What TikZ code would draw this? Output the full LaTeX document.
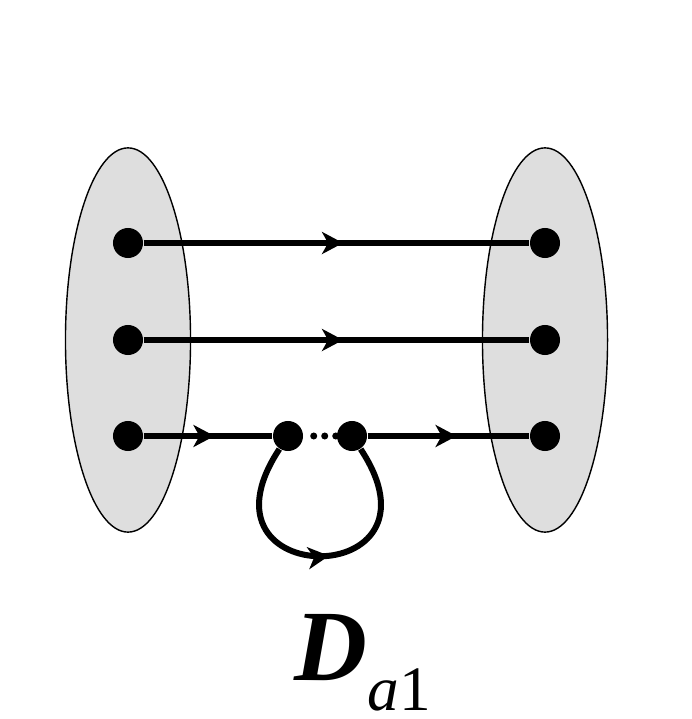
\documentclass[tikz,border=0pt]{standalone}
\usepackage{fontspec}
\setmainfont{Liberation Serif}
\usetikzlibrary{shapes.geometric,arrows.meta,decorations.markings}
\definecolor{setgray}{RGB}{222,222,222}
\tikzset{
    setnode/.style={ellipse, draw, fill=setgray, line width=0.4pt, inner sep=0pt,
        minimum width=1.25cm, minimum height=3.84cm},
    vertex/.style={circle, fill=black, inner sep=0pt, minimum size=0.3cm},
    flow/.style={line width=0.06cm},
    midarrow/.style={postaction={decorate}, decoration={markings,
        mark=at position #1 with {\arrow{Stealth[length=2.1mm,width=2.2mm,inset=0.6mm]}}}},
    dotline/.style={line width=0.07cm, line cap=round, dash pattern=on 0pt off 0.11cm,
        shorten <=0.1cm}
}
\begin{document}
\begin{tikzpicture}[x=0.01cm, y=-0.01cm]
        \useasboundingbox (0,0) rectangle (691,719);
        \node[setnode] (L) at (128,340) {};
        \node[setnode] (R) at (545,340) {};
        \node[vertex] (X1) at (128,243) {};
        \node[vertex] (X2) at (128,340) {};
        \node[vertex] (X3) at (128,436) {};
        \node[vertex] (Y1) at (545,243) {};
        \node[vertex] (Y2) at (545,340) {};
        \node[vertex] (Y3) at (545,436) {};
        \node[vertex] (C1) at (288,436) {};
        \node[vertex] (C2) at (352,436) {};
        \draw[flow, midarrow=0.517] (X1) -- (Y1);
        \draw[flow, midarrow=0.517] (X2) -- (Y2);
        \draw[flow, midarrow=0.55] (X3) -- (C1);
        \draw[flow, midarrow=0.55] (C2) -- (Y3);
        \draw[dotline] (C1) -- (C2);
        \draw[flow, midarrow=0.53] (C1) .. controls (185,592) and (455,592) .. (C2);
        \node[anchor=base west, inner sep=0pt, font=\fontsize{28.7}{30}\selectfont] (Da1) at (294,680)
            {\textbf{\textit{D}}\raisebox{-0.3cm}{\fontsize{18}{19}\selectfont\textit{a}1}};
    \end{tikzpicture}
\end{document}
